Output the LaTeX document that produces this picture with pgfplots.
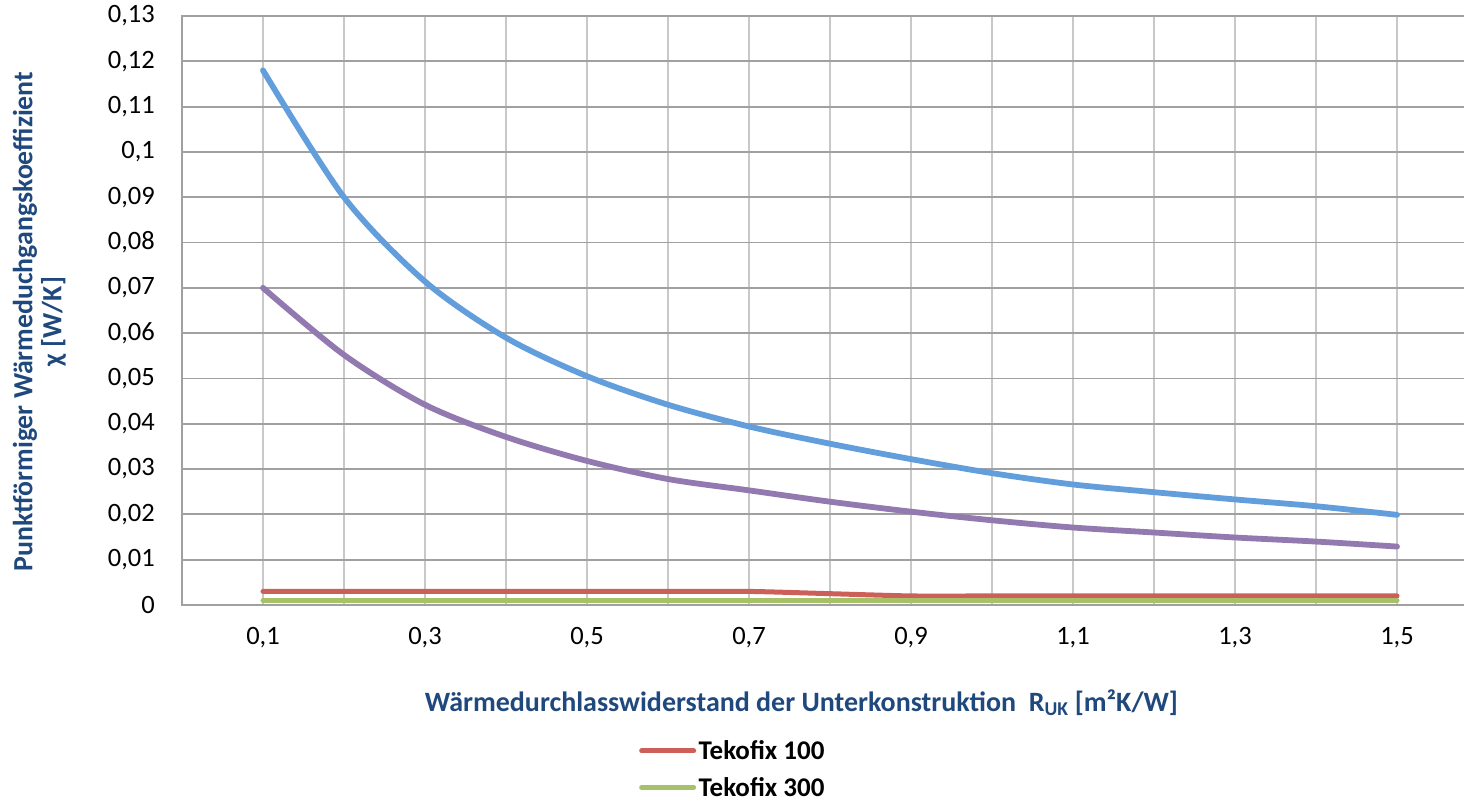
\documentclass[border=0pt]{standalone}
\usepackage{pgfplots}
\pgfplotsset{compat=1.18}
\usepackage{fontspec}
\setmainfont{Carlito}
\definecolor{ttl}{RGB}{31,73,125}
\definecolor{cblue}{RGB}{98,158,220}
\definecolor{cpurple}{RGB}{146,122,177}
\definecolor{cred}{RGB}{204,96,89}
\definecolor{cgreen}{RGB}{166,193,103}
\definecolor{hgrid}{RGB}{160,160,160}
\definecolor{vgrid}{RGB}{200,200,200}
\begin{document}
\begin{tikzpicture}
\useasboundingbox (-182bp,-196bp) rectangle (1282bp,605bp);
\begin{axis}[
  at={(0,0)}, anchor=south west,
  scale only axis, width=1296bp, height=589bp,
  xmin=0, xmax=1.6, ymin=0, ymax=0.13,
  axis line style={draw=hgrid, line width=1.8bp},
  xtick={0.1,0.3,0.5,0.7,0.9,1.1,1.3,1.5},
  minor xtick={0.2,0.4,0.6,0.8,1.0,1.2,1.4},
  ytick={0,0.01,0.02,0.03,0.04,0.05,0.06,0.07,0.08,0.09,0.1,0.11,0.12,0.13},
  major tick length=0pt, minor tick length=0pt,
  tick style={draw=none},
  xmajorgrids, xminorgrids, ymajorgrids,
  major x grid style={draw=vgrid, line width=1.8bp},
  minor x grid style={draw=vgrid, line width=1.8bp},
  major y grid style={draw=hgrid, line width=1.8bp},
  ticklabel style={font=\fontsize{26.5bp}{31bp}\selectfont, inner sep=0pt},
  yticklabel style={anchor=east, xshift=-27bp},
  xticklabel style={anchor=north, yshift=-22bp},
  /pgf/number format/.cd, use comma, fixed, precision=2, 1000 sep={}, assume math mode=true,
  /pgfplots/.cd,
  xlabel={Wärmedurchlasswiderstand der Unterkonstruktion\ \ R\textsubscript{UK} [m²K/W]},
  xlabel style={at={(axis description cs:0.478,-0.1664)}, anchor=center, font=\bfseries\fontsize{28bp}{30bp}\selectfont, text=ttl},
  ylabel={Punktförmiger Wärmeduchgangskoeffizient\\χ [W/K]},
  ylabel style={at={(axis description cs:-0.1100,0.4813)}, anchor=center, align=center, font=\bfseries\fontsize{27.8bp}{29bp}\selectfont, text=ttl},
  legend style={at={(axis description cs:0.3526,-0.2300)}, anchor=north west, draw=none, fill=none, inner sep=0pt,
    font=\bfseries\fontsize{27bp}{30bp}\selectfont, row sep=16bp, nodes={inner sep=0pt},
    /tikz/every odd column/.style={column sep=2.5bp}},
  legend cell align=left,
  legend image code/.code={\draw[#1, line width=5bp, line cap=round] (0bp,0bp) -- (52bp,0bp);},
  every axis plot/.append style={line cap=round, line join=round},
]
\addplot[cred, line width=5bp, smooth, tension=0.4] coordinates {
(0.1,0.003)(0.2,0.003)(0.3,0.003)(0.4,0.003)(0.5,0.003)(0.6,0.003)(0.7,0.003)(0.8,0.0025)
(0.9,0.002)(1.0,0.002)(1.1,0.002)(1.2,0.002)(1.3,0.002)(1.4,0.002)(1.5,0.002)};
\addlegendentry{Tekofix 100}
\addplot[cgreen, line width=5bp] coordinates {
(0.1,0.001)(0.2,0.001)(0.3,0.001)(0.4,0.001)(0.5,0.001)(0.6,0.001)(0.7,0.001)(0.8,0.001)
(0.9,0.001)(1.0,0.001)(1.1,0.001)(1.2,0.001)(1.3,0.001)(1.4,0.001)(1.5,0.001)};
\addlegendentry{Tekofix 300}
\addplot[cblue, line width=5.8bp, smooth, forget plot] coordinates {
(0.1,0.118)(0.2,0.090)(0.3,0.0714)(0.4,0.059)(0.5,0.0505)(0.6,0.0442)(0.7,0.0394)(0.8,0.0356)
(0.9,0.0322)(1.0,0.0291)(1.1,0.0266)(1.2,0.0249)(1.3,0.0233)(1.4,0.0218)(1.5,0.0199)};
\addplot[cpurple, line width=5.8bp, smooth, forget plot] coordinates {
(0.1,0.070)(0.2,0.0552)(0.3,0.0442)(0.4,0.0371)(0.5,0.0318)(0.6,0.0278)(0.7,0.0253)(0.8,0.0228)
(0.9,0.0206)(1.0,0.0187)(1.1,0.0171)(1.2,0.0160)(1.3,0.0149)(1.4,0.0140)(1.5,0.0129)};
\end{axis}
\end{tikzpicture}
\end{document}
